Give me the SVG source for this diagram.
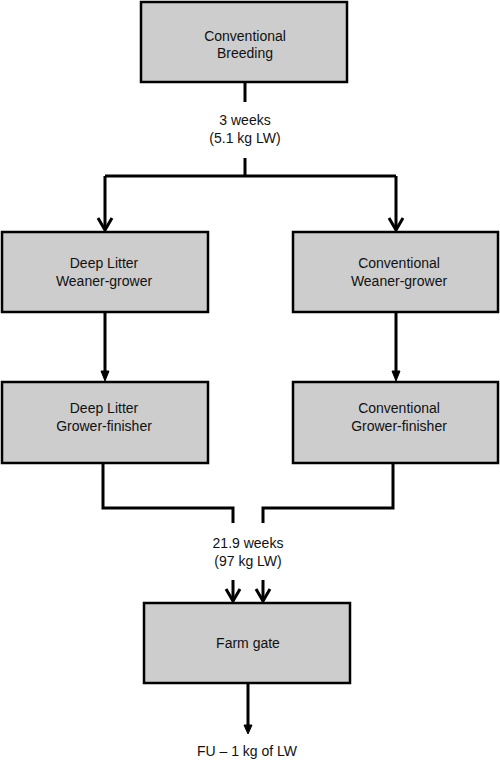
<svg xmlns="http://www.w3.org/2000/svg" width="500" height="760" viewBox="0 0 500 760">
<style>
.box{fill:#cdcdcd;stroke:#000;stroke-width:2.5}
.t{font-family:"Liberation Sans",Arial,sans-serif;font-size:14px;fill:#111;text-anchor:middle}
.c{fill:none;stroke:#000;stroke-width:3}
.ah{fill:none;stroke:#000;stroke-width:3}
.fh{fill:#000;stroke:#000;stroke-width:1}
</style>
<rect width="500" height="760" fill="#fff"/>
<g id="n-breeding"><rect class="box" x="141" y="2" width="206" height="80"/><text class="t" x="245" y="41">Conventional</text><text class="t" x="245" y="58">Breeding</text></g>
<g id="n-dl-wg"><rect class="box" x="2" y="232" width="206" height="80"/><text class="t" x="104" y="268">Deep Litter</text><text class="t" x="104" y="286">Weaner-grower</text></g>
<g id="n-c-wg"><rect class="box" x="293" y="232" width="205" height="80"/><text class="t" x="399" y="268">Conventional</text><text class="t" x="399" y="286">Weaner-grower</text></g>
<g id="n-dl-gf"><rect class="box" x="2" y="382" width="206" height="81"/><text class="t" x="104" y="413">Deep Litter</text><text class="t" x="104" y="431">Grower-finisher</text></g>
<g id="n-c-gf"><rect class="box" x="293" y="382" width="205" height="81"/><text class="t" x="399" y="413">Conventional</text><text class="t" x="399" y="431">Grower-finisher</text></g>
<g id="n-farmgate"><rect class="box" x="144" y="603" width="206" height="80"/><text class="t" x="248" y="648">Farm gate</text></g>
<g id="labels">
<text class="t" x="245" y="125">3 weeks</text><text class="t" x="245" y="143">(5.1 kg LW)</text>
<text class="t" x="248" y="548">21.9 weeks</text><text class="t" x="248" y="566">(97 kg LW)</text>
<text class="t" x="247" y="756">FU – 1 kg of LW</text>
</g>
<g id="connectors">
<path class="c" d="M245 82V102"/>
<path class="c" d="M245 158V176M105 176H396M105 176V230M396 176V230"/>
<path class="c" d="M105 312V374M396 312V374"/>
<path class="c" d="M103 463V508H233V523M393 463V508H263V523"/>
<path class="c" d="M233 580V601M263 580V601"/>
<path class="c" d="M248 683V726"/>
<g class="ah">
<path d="M98 218L105 230L112 218"/>
<path d="M389 218L396 230L403 218"/>
<path d="M226 589L233 601L240 589"/>
<path d="M256 589L263 601L270 589"/>
</g>
<path class="fh" d="M101 371L105 381L109 371Z"/>
<path class="fh" d="M392 371L396 381L400 371Z"/>
<path class="fh" d="M244 725L248 734L252 725Z"/>
</g>
</svg>
